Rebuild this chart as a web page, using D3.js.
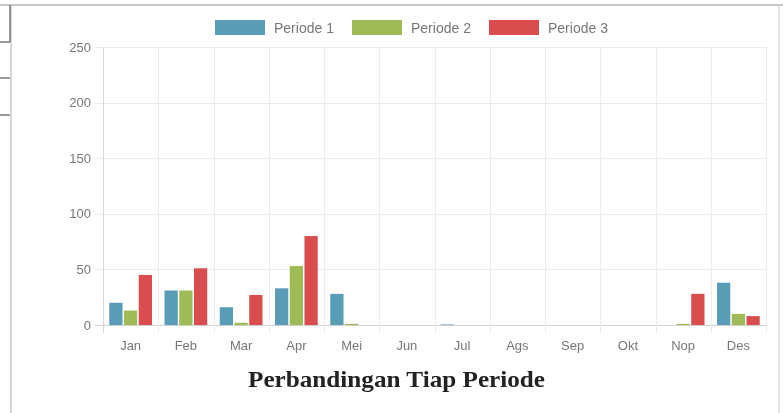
<!DOCTYPE html>
<html>
<head>
<meta charset="utf-8">
<script src="https://cdn.jsdelivr.net/npm/d3@7"></script>
<style>
  html, body { margin: 0; padding: 0; background: #fff; }
  svg { display: block; }
</style>
</head>
<body>
<svg id="chart" width="783" height="413"></svg>
<script>
const months = ["Jan","Feb","Mar","Apr","Mei","Jun","Jul","Ags","Sep","Okt","Nop","Des"];
const seriesNames = ["Periode 1","Periode 2","Periode 3"];
const periode1 = [20, 31, 16, 33, 28, 0, 0.5, 0, 0, 0, 0, 38];
const periode2 = [13, 31, 2, 53, 1, 0, 0, 0, 0, 0, 1, 10];
const periode3 = [45, 51, 27, 80, 0, 0, 0, 0, 0, 0, 28, 8];
const yTicks = [0, 50, 100, 150, 200, 250];
const colors = ["#5a9cb5", "#9fbb58", "#d94d50"];
const title = "Perbandingan Tiap Periode";

const seriesValues = [periode1, periode2, periode3];

const svg = d3.select("#chart");
const defs = svg.append("defs");
defs.append("filter").attr("id", "soft").attr("x", "-5%").attr("y", "-5%").attr("width", "110%").attr("height", "110%")
  .append("feGaussianBlur").attr("stdDeviation", 0.55);
const root = svg.append("g").attr("filter", "url(#soft)");
root.append("rect").attr("width", 783).attr("height", 413).attr("fill", "#fff");

// frame of the screenshot
const frame = root.append("g").attr("stroke", "#c8c8c8").attr("fill", "none");
frame.append("line").attr("x1", 0).attr("x2", 783).attr("y1", 5).attr("y2", 5).attr("stroke-width", 2);
frame.append("line").attr("x1", 11).attr("x2", 11).attr("y1", 5).attr("y2", 413).attr("stroke-width", 1.5);
frame.append("line").attr("x1", 779).attr("x2", 779).attr("y1", 5).attr("y2", 413).attr("stroke-width", 1);
const frame2 = root.append("g").attr("stroke", "#777").attr("stroke-width", 1.5);
frame2.append("line").attr("x1", 10).attr("x2", 10).attr("y1", 5).attr("y2", 42);
[42, 78, 115].forEach(yy => frame2.append("line").attr("x1", 0).attr("x2", 10).attr("y1", yy).attr("y2", yy));

const pLeft = 103, pRight = 766, pTop = 47, pBottom = 325;

const x = d3.scaleBand().domain(months).range([pLeft, pRight]).padding(0);
const bw = x.bandwidth();
const x1 = d3.scaleBand().domain(seriesNames)
  .range([bw * 0.1, bw * 0.9]).paddingInner(0.1).paddingOuter(0.05);
const y = d3.scaleLinear().domain([0, 250]).range([pBottom, pTop]);

// grid
const grid = root.append("g").attr("stroke-width", 1);
yTicks.forEach(t => {
  grid.append("line").attr("x1", pLeft - 8).attr("x2", pRight)
    .attr("y1", Math.round(y(t)) + 0.5).attr("y2", Math.round(y(t)) + 0.5)
    .attr("stroke", t === 0 ? "#cfcfcf" : "#ececec");
});
d3.range(months.length + 1).forEach(i => {
  const xx = pLeft + i * bw;
  grid.append("line").attr("x1", Math.round(xx) + 0.5).attr("x2", Math.round(xx) + 0.5)
    .attr("y1", pTop).attr("y2", pBottom + 8)
    .attr("stroke", i === 0 ? "#d8d8d8" : "#ececec");
});

// y axis labels
const yAxis = d3.axisLeft(y).tickValues(yTicks).tickSize(0).tickPadding(10);
const gy = root.append("g").attr("transform", `translate(${pLeft - 2},0)`).call(yAxis);
gy.select(".domain").remove();
gy.selectAll("text").attr("font-family", "Liberation Sans, Arial, sans-serif")
  .attr("font-size", 13).attr("fill", "#777");

// x axis labels
const xAxis = d3.axisBottom(x).tickSize(0).tickPadding(16);
const gx = root.append("g").attr("transform", `translate(0,${pBottom})`).call(xAxis);
gx.select(".domain").remove();
gx.selectAll("text").attr("font-family", "Liberation Sans, Arial, sans-serif")
  .attr("font-size", 13).attr("fill", "#777");

// bars
const data = [];
months.forEach((m, i) => seriesNames.forEach((s, j) => data.push({ m, s, j, v: seriesValues[j][i] })));
root.append("g").selectAll("rect").data(data).join("rect")
  .attr("x", d => x(d.m) + x1(d.s))
  .attr("width", x1.bandwidth())
  .attr("y", d => y(d.v))
  .attr("height", d => pBottom - y(d.v))
  .attr("fill", d => colors[d.j]);

// legend
const legendX = [215, 352, 489];
const lg = root.append("g");
seriesNames.forEach((s, j) => {
  lg.append("rect").attr("x", legendX[j]).attr("y", 20).attr("width", 50).attr("height", 15).attr("fill", colors[j]);
  lg.append("text").attr("x", legendX[j] + 59).attr("y", 32.5).text(s)
    .attr("font-family", "Liberation Sans, Arial, sans-serif").attr("font-size", 14).attr("fill", "#777");
});

// title
root.append("text").attr("x", 248).attr("y", 387)
  .attr("font-family", "Liberation Serif, 'Times New Roman', serif").attr("font-weight", "bold")
  .attr("font-size", 24).attr("fill", "#222")
  .attr("textLength", 297).attr("lengthAdjust", "spacingAndGlyphs").text(title);
</script>
</body>
</html>
